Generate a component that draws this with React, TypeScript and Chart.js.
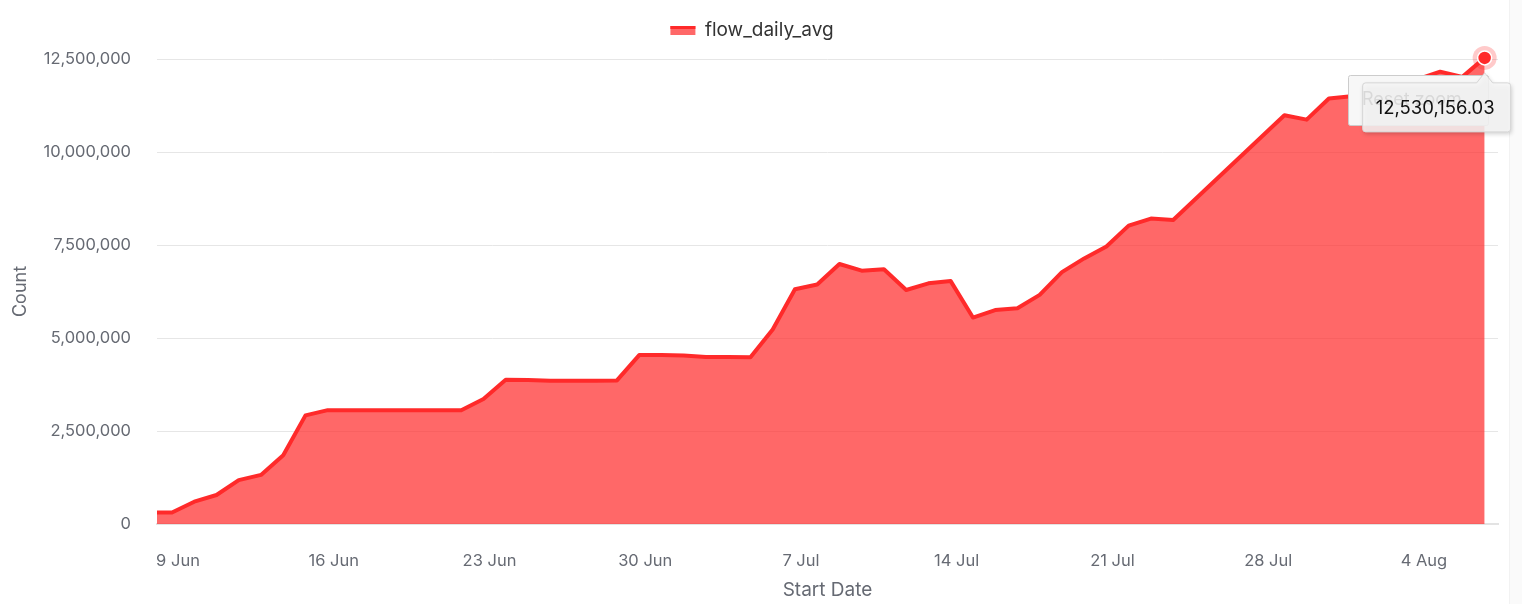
import React, { useEffect, useRef } from 'react';
import { Chart, registerables } from 'chart.js';

Chart.register(...registerables);

const SERIES_NAME = 'flow_daily_avg';
const X_TITLE = 'Start Date';
const Y_TITLE = 'Count';
const RESET_LABEL = 'Reset zoom';

// Day numbers relative to 9 Jun 00:00; each daily sample is stamped a few hours before midnight.
const SAMPLE_SHIFT = -0.27;
const SAMPLE_DAYS = [
  -1, 0, 1, 2, 3, 4, 5, 6, 7, 8, 9, 10, 11, 12, 13, 14, 15, 16, 17, 18, 19, 20,
  21, 22, 23, 24, 25, 26, 27, 28, 29, 30, 31, 32, 33, 34, 35, 36, 37, 38, 39, 40,
  41, 42, 43, 44, 45, 50, 51, 52, 53, 54, 55, 56, 57, 58, 59,
];
const FLOW_VALUES = [
  310000, 310000, 600000, 780000, 1180000, 1320000, 1850000, 2920000, 3060000, 3060000,
  3060000, 3060000, 3060000, 3060000, 3060000, 3360000, 3880000, 3870000, 3850000, 3850000,
  3850000, 3860000, 4540000, 4540000, 4530000, 4490000, 4490000, 4480000, 5230000, 6310000,
  6440000, 6990000, 6810000, 6850000, 6290000, 6470000, 6530000, 5550000, 5750000, 5800000,
  6160000, 6770000, 7140000, 7460000, 8020000, 8210000, 8170000, 10990000, 10870000, 11440000,
  11500000, 11580000, 11720000, 11960000, 12160000, 12020000, 12530156.03,
];

const TICK_DAYS = [0, 7, 14, 21, 28, 35, 42, 49, 56];
const TICK_LABELS = ['9 Jun', '16 Jun', '23 Jun', '30 Jun', '7 Jul', '14 Jul', '21 Jul', '28 Jul', '4 Aug'];
const X_MIN = -0.944;
const X_MAX = 59.33;
const Y_MAX = 12500000;
const Y_STEP = 2500000;

const FONT = 'Inter';
const LINE_COLOR = '#ff2a2a';
const FILL_COLOR = 'rgba(255, 40, 40, 0.7)';
const AXIS_TEXT = '#666a73';
const LEGEND_ITEM_HEIGHT = 38;

function roundRect(ctx: CanvasRenderingContext2D, x: number, y: number, w: number, h: number, r: number) {
  ctx.beginPath();
  ctx.moveTo(x + r, y);
  ctx.lineTo(x + w - r, y);
  ctx.arcTo(x + w, y, x + w, y + r, r);
  ctx.lineTo(x + w, y + h - r);
  ctx.arcTo(x + w, y + h, x + w - r, y + h, r);
  ctx.lineTo(x + r, y + h);
  ctx.arcTo(x, y + h, x, y + h - r, r);
  ctx.lineTo(x, y + r);
  ctx.arcTo(x, y, x + r, y, r);
  ctx.closePath();
}

const overlayPlugin = {
  id: 'overlay',
  afterDraw(chart: any) {
    const ctx: CanvasRenderingContext2D = chart.ctx;
    const area = chart.chartArea;

    // legend symbol: filled swatch with a line on top
    const legend = chart.legend;
    if (legend && legend.legendHitBoxes && legend.legendHitBoxes[0]) {
      const hb = legend.legendHitBoxes[0];
      const cy = hb.top + LEGEND_ITEM_HEIGHT / 2;
      ctx.save();
      ctx.fillStyle = FILL_COLOR;
      ctx.fillRect(hb.left + 6, cy - 4, 25, 9);
      ctx.fillStyle = LINE_COLOR;
      ctx.fillRect(hb.left + 6, cy - 4, 25, 3);
      ctx.restore();
    }

    const meta = chart.getDatasetMeta(0);
    const last = meta.data.length - 1;
    const el = meta.data[last];
    const px = el.x;
    const py = el.y;

    // hovered marker with halo
    ctx.save();
    ctx.beginPath();
    ctx.arc(px, py, 12, 0, Math.PI * 2);
    ctx.fillStyle = 'rgba(255, 42, 42, 0.25)';
    ctx.fill();
    ctx.beginPath();
    ctx.arc(px, py, 7, 0, Math.PI * 2);
    ctx.fillStyle = LINE_COLOR;
    ctx.fill();
    ctx.lineWidth = 1.5;
    ctx.strokeStyle = '#ffffff';
    ctx.stroke();
    ctx.restore();

    // reset zoom button
    const bl = area.right - 150;
    const bt = area.top + 16;
    ctx.save();
    roundRect(ctx, bl + 0.5, bt + 0.5, 140, 50, 2);
    ctx.fillStyle = '#f7f7f7';
    ctx.fill();
    ctx.strokeStyle = '#cccccc';
    ctx.lineWidth = 1;
    ctx.stroke();
    ctx.font = `18px ${FONT}`;
    ctx.fillStyle = '#333333';
    ctx.textBaseline = 'middle';
    ctx.textAlign = 'left';
    ctx.fillText(RESET_LABEL, bl + 14, bt + 25);
    ctx.restore();

    // tooltip
    const bx = px - 122;
    const by = py + 25;
    const bw = 148;
    const bhh = 49;
    const r = 3;
    ctx.save();
    ctx.beginPath();
    ctx.moveTo(bx + r, by);
    ctx.lineTo(px - 8, by);
    ctx.lineTo(px, py + 15);
    ctx.lineTo(px + 8, by);
    ctx.lineTo(bx + bw - r, by);
    ctx.arcTo(bx + bw, by, bx + bw, by + r, r);
    ctx.lineTo(bx + bw, by + bhh - r);
    ctx.arcTo(bx + bw, by + bhh, bx + bw - r, by + bhh, r);
    ctx.lineTo(bx + r, by + bhh);
    ctx.arcTo(bx, by + bhh, bx, by + bhh - r, r);
    ctx.lineTo(bx, by + r);
    ctx.arcTo(bx, by, bx + r, by, r);
    ctx.closePath();
    ctx.shadowColor = 'rgba(0,0,0,0.22)';
    ctx.shadowBlur = 4;
    ctx.shadowOffsetX = 1;
    ctx.shadowOffsetY = 2;
    ctx.fillStyle = 'rgba(247,247,247,0.85)';
    ctx.fill();
    ctx.shadowColor = 'transparent';
    ctx.strokeStyle = '#d6d6d6';
    ctx.lineWidth = 1;
    ctx.stroke();
    const value = FLOW_VALUES[FLOW_VALUES.length - 1];
    const txt = value.toLocaleString('en-US', { minimumFractionDigits: 2, maximumFractionDigits: 2 });
    ctx.font = `18.5px ${FONT}`;
    ctx.fillStyle = '#111111';
    ctx.textBaseline = 'middle';
    ctx.textAlign = 'left';
    ctx.fillText(txt, bx + 13, by + bhh / 2 + 1);
    ctx.restore();
  },
};

export default function App() {
  const ref = useRef<HTMLCanvasElement | null>(null);

  useEffect(() => {
    if (!ref.current) return;
    const points = SAMPLE_DAYS.map((d, i) => ({ x: d + SAMPLE_SHIFT, y: FLOW_VALUES[i] }));
    const chart = new Chart(ref.current, {
      type: 'line',
      data: {
        datasets: [
          {
            label: SERIES_NAME,
            data: points,
            borderColor: LINE_COLOR,
            backgroundColor: FILL_COLOR,
            borderWidth: 4,
            borderJoinStyle: 'round',
            borderCapStyle: 'round',
            pointRadius: 0,
            pointHoverRadius: 0,
            tension: 0,
            fill: 'origin',
            clip: { left: 0, top: false, right: false, bottom: 0 } as any,
          },
        ],
      },
      options: {
        responsive: false,
        animation: false,
        devicePixelRatio: 1,
        events: [],
        layout: { padding: { top: 1, left: 0, right: 24, bottom: 2 } },
        plugins: {
          tooltip: { enabled: false },
          legend: {
            display: true,
            position: 'top',
            labels: {
              font: { family: FONT, size: 19 },
              color: '#333333',
              boxWidth: 31,
              boxHeight: LEGEND_ITEM_HEIGHT,
              padding: 10,
              generateLabels: () => [
                {
                  text: SERIES_NAME,
                  fillStyle: 'rgba(0,0,0,0)',
                  strokeStyle: 'rgba(0,0,0,0)',
                  lineWidth: 0,
                  hidden: false,
                  datasetIndex: 0,
                  fontColor: '#333333',
                } as any,
              ],
            },
          },
        },
        scales: {
          x: {
            type: 'linear',
            min: X_MIN,
            max: X_MAX,
            afterBuildTicks: (s: any) => {
              s.ticks = TICK_DAYS.map((v) => ({ value: v }));
            },
            afterFit: (s: any) => {
              s.height = 78;
            },
            ticks: {
              autoSkip: false,
              maxRotation: 0,
              padding: 19,
              color: AXIS_TEXT,
              font: { family: FONT, size: 16.5 },
              callback: (_v: any, i: number) => TICK_LABELS[i],
            },
            grid: { display: false },
            border: { display: true, color: '#e3e3e3', width: 2 },
            title: {
              display: true,
              text: X_TITLE,
              color: AXIS_TEXT,
              font: { family: FONT, size: 19 },
              padding: { top: 4, bottom: 0 },
            },
          },
          y: {
            min: 0,
            max: Y_MAX,
            afterFit: (s: any) => {
              s.width = 157;
            },
            ticks: {
              stepSize: Y_STEP,
              padding: 26,
              color: AXIS_TEXT,
              font: { family: FONT, size: 16.5 },
              callback: (v: any) => Number(v).toLocaleString('en-US'),
            },
            grid: { color: '#e6e6e6', lineWidth: 1, drawTicks: false },
            border: { display: false },
            title: {
              display: true,
              text: Y_TITLE,
              color: AXIS_TEXT,
              font: { family: FONT, size: 18 },
              padding: { top: 10, bottom: 0 },
            },
          },
        },
      },
      plugins: [overlayPlugin],
    });
    return () => chart.destroy();
  }, []);

  return (
    <div style={{ position: 'fixed', left: 0, top: 0, width: 1522, height: 604, background: '#ffffff' }}>
      <div
        style={{
          position: 'absolute',
          left: 1509,
          top: 0,
          width: 13,
          height: 604,
          background: '#fafafa',
          borderLeft: '1px solid #f2f2f2',
        }}
      />
      <canvas ref={ref} width={1522} height={604} style={{ position: 'absolute', left: 0, top: 0 }} />
    </div>
  );
}
